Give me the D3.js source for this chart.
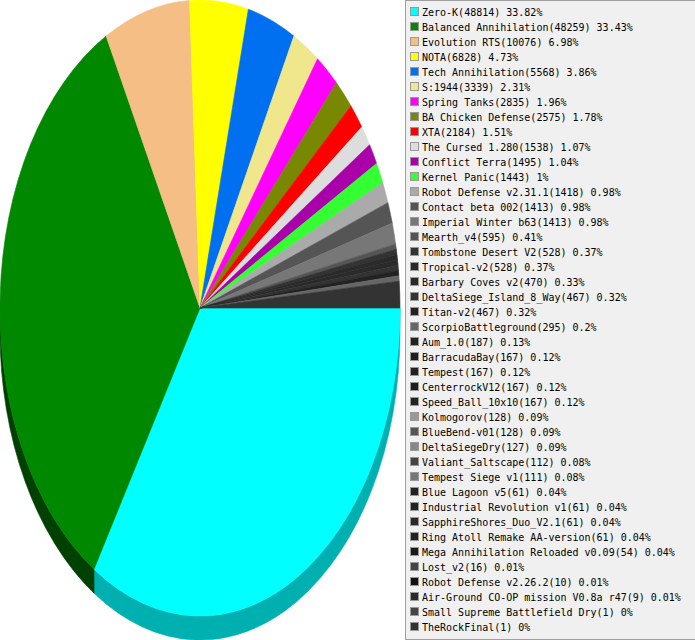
<!DOCTYPE html>
<html>
<head>
<meta charset="utf-8">
<script src="https://cdn.jsdelivr.net/npm/d3@7/dist/d3.min.js"></script>
<style>
  html, body { margin: 0; padding: 0; background: #ffffff; }
  svg { display: block; }
  text { font-family: "DejaVu Sans Mono", monospace; font-size: 10px; fill: #000; }
</style>
</head>
<body>
<svg id="chart" width="695" height="640"></svg>
<script>
const names = [
  "Zero-K", "Balanced Annihilation", "Evolution RTS", "NOTA", "Tech Annihilation",
  "S:1944", "Spring Tanks", "BA Chicken Defense", "XTA", "The Cursed 1.280",
  "Conflict Terra", "Kernel Panic", "Robot Defense v2.31.1", "Contact beta 002",
  "Imperial Winter b63", "Mearth_v4", "Tombstone Desert V2", "Tropical-v2",
  "Barbary Coves v2", "DeltaSiege_Island_8_Way", "Titan-v2", "ScorpioBattleground",
  "Aum_1.0", "BarracudaBay", "Tempest", "CenterrockV12", "Speed_Ball_10x10",
  "Kolmogorov", "BlueBend-v01", "DeltaSiegeDry", "Valiant_Saltscape",
  "Tempest Siege v1", "Blue Lagoon v5", "Industrial Revolution v1",
  "SapphireShores_Duo_V2.1", "Ring Atoll Remake AA-version",
  "Mega Annihilation Reloaded v0.09", "Lost_v2", "Robot Defense v2.26.2",
  "Air-Ground CO-OP mission V0.8a r47", "Small Supreme Battlefield Dry", "TheRockFinal"
];
const counts = [
  48814, 48259, 10076, 6828, 5568, 3339, 2835, 2575, 2184, 1538, 1495, 1443, 1418, 1413,
  1413, 595, 528, 528, 470, 467, 467, 295, 187, 167, 167, 167, 167, 128, 128, 127, 112,
  111, 61, 61, 61, 61, 54, 16, 10, 9, 1, 1
];
const percents = [
  "33.82", "33.43", "6.98", "4.73", "3.86", "2.31", "1.96", "1.78", "1.51", "1.07",
  "1.04", "1", "0.98", "0.98", "0.98", "0.41", "0.37", "0.37", "0.33", "0.32", "0.32",
  "0.2", "0.13", "0.12", "0.12", "0.12", "0.12", "0.09", "0.09", "0.09", "0.08", "0.08",
  "0.04", "0.04", "0.04", "0.04", "0.04", "0.01", "0.01", "0.01", "0", "0"
];
const colors = [
  "#00ffff", "#008800", "#f5be84", "#ffff00", "#0070f0", "#f0e68c", "#ff00ff", "#788800",
  "#ff0000", "#dddddd", "#aa00aa", "#33ff33", "#aaaaaa", "#555555", "#777777", "#555555",
  "#333333", "#2a2a2a", "#2a2a2a", "#333333", "#222222", "#666666", "#222222", "#1e1e1e",
  "#222222", "#1e1e1e", "#222222", "#999999", "#555555", "#888888", "#444444", "#777777",
  "#222222", "#222222", "#2a2a2a", "#222222", "#1a1a1a", "#444444", "#111111", "#2a2a2a",
  "#444444", "#333333"
];
const sideColors = { "#00ffff": "#00b0b0", "#008800": "#004000" };

const svg = d3.select("#chart");

// ---- pie geometry ----
const cx = 200, cy = 308, rx = 200, ry = 308, depth = 24;
const R = rx;
const sy = ry / R;

// The original renderer sweeps whole degrees per slice; the last slice takes the remainder.
const total = d3.sum(counts);
const degrees = counts.map(c => Math.round(c / total * 360));
degrees[degrees.length - 1] = 360 - d3.sum(degrees.slice(0, -1));

const data = names.map((n, i) => ({ name: n, count: counts[i], pct: percents[i], color: colors[i], deg: degrees[i] }));

const pie = d3.pie()
  .value(d => d.deg)
  .sort(null)
  .startAngle(Math.PI / 2)
  .endAngle(Math.PI / 2 + 2 * Math.PI);
const arcs = pie(data);

const g = svg.append("g").attr("transform", `translate(${cx},${cy}) scale(1,${sy})`);

// side (depth) for the visible front half: d3 angles from PI/2 (3 o'clock) to 3PI/2 (9 o'clock)
const dScaled = depth / sy;
const sideG = g.append("g");
arcs.forEach(a => {
  const a0 = Math.max(a.startAngle, Math.PI / 2);
  const a1 = Math.min(a.endAngle, 3 * Math.PI / 2);
  if (a1 <= a0) return;
  const t0 = a0 - Math.PI / 2, t1 = a1 - Math.PI / 2;
  const p = d3.path();
  p.moveTo(R * Math.cos(t0), R * Math.sin(t0));
  p.arc(0, 0, R, t0, t1, false);
  p.lineTo(R * Math.cos(t1), R * Math.sin(t1) + dScaled);
  p.arc(0, dScaled, R, t1, t0, true);
  p.closePath();
  const sc = sideColors[a.data.color] || d3.color(a.data.color).darker(1.2).formatHex();
  sideG.append("path")
    .attr("d", p.toString())
    .attr("fill", sc)
    .attr("stroke", sc)
    .attr("stroke-width", 0.6)
    .attr("vector-effect", "non-scaling-stroke");
});

const arcGen = d3.arc().innerRadius(0).outerRadius(R);
g.append("g").selectAll("path")
  .data(arcs.filter(a => a.endAngle > a.startAngle))
  .join("path")
  .attr("d", arcGen)
  .attr("fill", d => d.data.color)
  .attr("stroke", d => d.data.color)
  .attr("stroke-width", 0.6)
  .attr("vector-effect", "non-scaling-stroke");

// ---- legend ----
const legend = svg.append("g");
legend.append("rect")
  .attr("x", 405.5).attr("y", 0.5)
  .attr("width", 290).attr("height", 639)
  .attr("fill", "#f0f0f0")
  .attr("stroke", "#a0a0a0")
  .attr("stroke-width", 1);

const rowY = d3.scaleLinear().domain([0, 1]).range([0, 15]);
const items = legend.selectAll("g.item")
  .data(data)
  .join("g")
  .attr("class", "item")
  .attr("transform", (d, i) => `translate(0,${rowY(i)})`);

items.append("rect")
  .attr("x", 410.5).attr("y", 7.5)
  .attr("width", 8).attr("height", 8)
  .attr("fill", d => d.color)
  .attr("stroke", "#999999")
  .attr("stroke-width", 1);

items.append("text")
  .attr("x", 422)
  .attr("y", 16)
  .text(d => `${d.name}(${d.count}) ${d.pct}%`);
</script>
</body>
</html>
